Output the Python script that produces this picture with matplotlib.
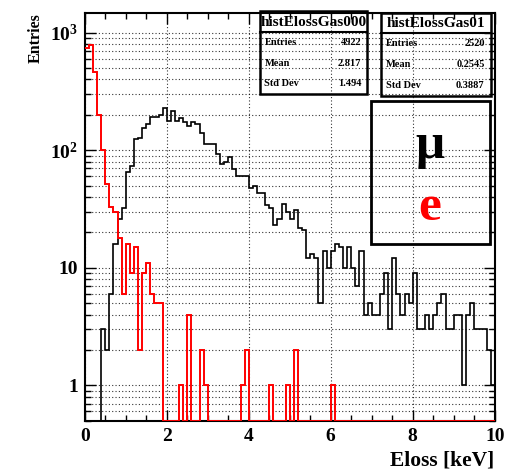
import numpy as np
import matplotlib
matplotlib.use("Agg")
import matplotlib.pyplot as plt
from matplotlib.ticker import MultipleLocator, LogLocator, FixedLocator, FixedFormatter, NullFormatter
from matplotlib.patches import Rectangle
from matplotlib.lines import Line2D

plt.rcParams["font.family"] = ["Liberation Serif", "DejaVu Serif"]
plt.rcParams["font.weight"] = "bold"
plt.rcParams["mathtext.fontset"] = "custom"
plt.rcParams["mathtext.rm"] = "Liberation Serif:bold"
plt.rcParams["mathtext.it"] = "Liberation Serif:bold"
plt.rcParams["mathtext.bf"] = "Liberation Serif:bold"

# ---- data: energy loss in gas, 100 bins from 0 to 10 keV ----
bin_edges = np.linspace(0.0, 10.0, 101)

muon_counts = [
    0, 0, 0, 0, 3, 2, 6, 16, 26, 32,
    65, 73, 125, 127, 154, 168, 191, 191, 199, 230,
    179, 217, 179, 188, 174, 162, 175, 166, 140, 112,
    113, 112, 93, 77, 80, 87, 69, 60, 60, 60,
    48, 50, 43, 43, 34, 32, 23, 26, 35, 30,
    26, 31, 22, 21, 12, 13, 12, 5, 14, 10,
    14, 16, 15, 10, 15, 10, 7, 14, 4, 5,
    4, 4, 6, 9, 3, 12, 6, 4, 6, 5,
    9, 3, 3, 4, 3, 4, 5, 6, 3, 3,
    4, 4, 1, 4, 5, 3, 3, 3, 2, 1,
]

electron_counts = [
    742, 785, 462, 200, 100, 52, 33, 30, 18, 6,
    16, 9, 15, 2, 9, 11, 6, 5, 5, 0,
    0, 0, 0, 1, 0, 4, 0, 0, 2, 1,
    0, 0, 0, 0, 0, 0, 0, 0, 1, 2,
    0, 0, 0, 0, 0, 1, 0, 0, 0, 1,
    0, 2, 0, 0, 0, 0, 0, 0, 0, 0,
    1, 0, 0, 0, 0, 0, 0, 0, 0, 0,
    0, 0, 0, 0, 0, 0, 0, 0, 0, 0,
    0, 0, 0, 0, 0, 0, 0, 0, 0, 0,
    0, 0, 0, 0, 0, 0, 0, 0, 0, 0,
]

stats_muon = {"name": "histElossGas000", "Entries": "4922", "Mean": "2.817", "Std Dev": "1.494"}
stats_electron = {"name": "histElossGas01", "Entries": "2520", "Mean": "0.2545", "Std Dev": "0.3887"}

y_tick_values = [1, 10, 100, 1000]
y_tick_labels = ["1", "10", r"$10^{2}$", r"$10^{3}$"]
x_tick_values = [0, 2, 4, 6, 8, 10]
x_tick_labels = ["0", "2", "4", "6", "8", "10"]

# ---- figure ----
W, H = 506, 472
fig = plt.figure(figsize=(W / 100, H / 100), dpi=100)
ax = fig.add_axes([84.7 / W, 1 - 420.7 / H, 410 / W, 408 / H])

y_low, y_high = 0.5, 1480

def floor_zero(counts):
    c = np.asarray(counts, dtype=float)
    return np.where(c > 0, c, y_low)

ax.stairs(floor_zero(muon_counts), bin_edges, baseline=None, color="black", lw=1.2, zorder=3)
ax.stairs(floor_zero(electron_counts), bin_edges, baseline=None, color="red", lw=1.4, zorder=4)

ax.set_yscale("log")
ax.set_xlim(0, 10)
ax.set_ylim(y_low, y_high)

ax.xaxis.set_major_locator(FixedLocator(x_tick_values))
ax.xaxis.set_major_formatter(FixedFormatter(x_tick_labels))
ax.xaxis.set_minor_locator(MultipleLocator(0.5))
ax.yaxis.set_major_locator(FixedLocator(y_tick_values))
ax.yaxis.set_major_formatter(FixedFormatter(y_tick_labels))
ax.yaxis.set_minor_locator(LogLocator(base=10, subs=np.arange(2, 10)))
ax.yaxis.set_minor_formatter(NullFormatter())

ax.tick_params(which="both", direction="in", top=True, right=True, width=1.0, colors="black")
ax.tick_params(which="major", length=8, labelsize=14, pad=5)
ax.tick_params(which="minor", length=4)
for lab in ax.get_xticklabels() + ax.get_yticklabels():
    lab.set_fontweight("bold")

ax.grid(which="major", axis="x", ls=(0, (1, 2)), color="black", lw=0.8, alpha=0.8)
ax.grid(which="both", axis="y", ls=(0, (1, 2)), color="black", lw=0.8, alpha=0.8)
ax.set_axisbelow(True)
for s in ax.spines.values():
    s.set_linewidth(1.5)

fig.text(494 / W, 1 - 461 / H, "Eloss [keV]", ha="right", va="center", fontsize=15.5, fontweight="bold")
fig.text(36 / W, 1 - 13 / H, "Entries", ha="center", va="top", rotation=90, fontsize=11.5, fontweight="bold")

# ---- boxes drawn in pixel coordinates ----
def fx(px):
    return px / W

def fy(py):
    return 1 - py / H

def stats_box(stats, x0, x1, y0, y1, ysep):
    fig.add_artist(Rectangle((fx(x0), fy(y1)), fx(x1) - fx(x0), fy(y0) - fy(y1),
                             transform=fig.transFigure, fill=False, lw=1.8, ec="black", zorder=10))
    fig.add_artist(Line2D([fx(x0), fx(x1)], [fy(ysep), fy(ysep)], transform=fig.transFigure,
                          lw=1.5, color="black", zorder=10))
    fig.text(fx((x0 + x1) / 2), fy((y0 + ysep) / 2 + 0.5), stats["name"], ha="center", va="center",
             fontsize=11, fontweight="bold", zorder=11)
    row_h = (y1 - ysep) / 3
    for i, key in enumerate(["Entries", "Mean", "Std Dev"]):
        yc = ysep + row_h * (i + 0.5)
        fig.text(fx(x0 + 5), fy(yc), key, ha="left", va="center", fontsize=7.5, fontweight="bold", zorder=11)
        fig.text(fx(x1 - 6), fy(yc), stats[key], ha="right", va="center", fontsize=7.5, fontweight="bold", zorder=11)

stats_box(stats_muon, 259.5, 367.3, 11.0, 94.3, 32.3)
stats_box(stats_electron, 381.0, 490.7, 13.3, 96.0, 33.3)

# particle legend
fig.add_artist(Rectangle((fx(370.7), fy(244.3)), fx(490) - fx(370.7), fy(100.7) - fy(244.3),
                         transform=fig.transFigure, fill=False, lw=2.0, ec="black", zorder=10))
fig.text(fx(430), fy(158), "\u03bc", ha="center", va="baseline", fontsize=37, fontweight="bold", color="black")
fig.text(fx(430), fy(220), "e", ha="center", va="baseline", fontsize=37, fontweight="bold", color="red")

fig.savefig("out.png", dpi=100)
